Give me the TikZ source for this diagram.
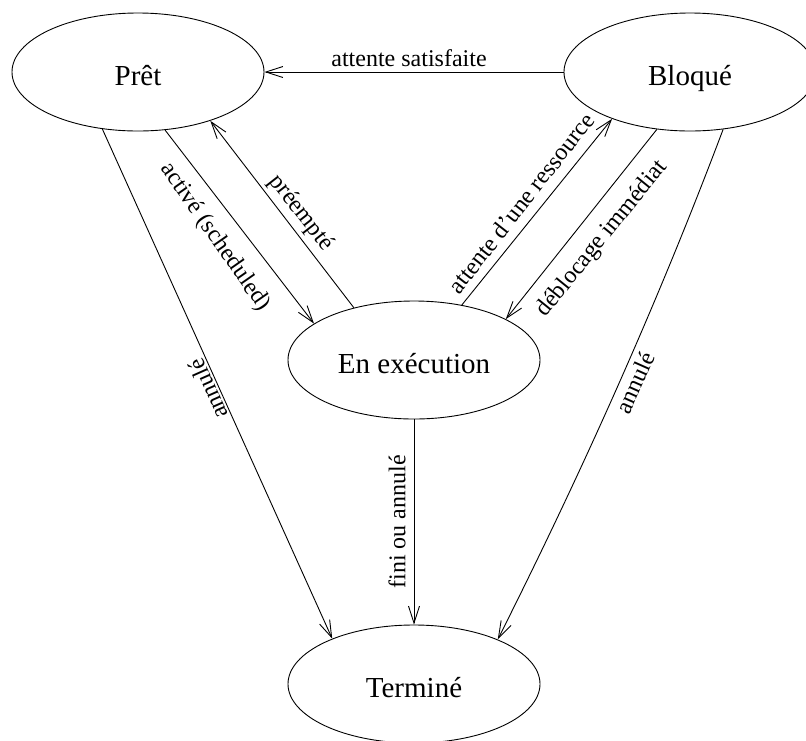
\documentclass[tikz,border=0pt]{standalone}
\usepackage{fontspec}
\setmainfont{Liberation Serif}
\usetikzlibrary{shapes.geometric,arrows.meta}
\begin{document}
\begin{tikzpicture}[x=1pt,y=-1pt,
  state/.style={draw, ellipse, line width=0.9pt, minimum width=252pt, minimum height=118pt,
    inner sep=0pt, font=\fontsize{29}{31}\selectfont, text height=26pt, text depth=0pt},
  elabel/.style={font=\fontsize{24}{26}\selectfont, inner sep=0pt},
  conn/.style={line width=0.9pt, -{Straight Barb[length=17pt,width=11pt,line width=0.9pt]}}]
\useasboundingbox (0,0) rectangle (806,740);
\clip (0,0) rectangle (806,740);

\node[state] (pret) at (138,72) {Prêt};
\node[state] (bloque) at (690,72) {Bloqué};
\node[state] (exec) at (414,360) {En exécution};
\node[state] (term) at (414,684) {Terminé};

\draw[conn] (bloque.180) -- (pret.0);
\draw[conn] (pret.-65.7) -- (exec.160.6);
\draw[conn] (exec.139.8) -- (pret.-34.3);
\draw[conn] (exec.49) -- (bloque.-149.9);
\draw[conn] (bloque.-120.4) -- (exec.24.4);
\draw[conn] (exec.-90) -- (term.90);
\draw[conn] (pret.-122) -- (term.151.9);
\draw[conn] (bloque.-60.9) .. controls (663,289) and (589,458) .. (term.28.8);

\node[elabel, anchor=base] (l1) at (409,66) {attente satisfaite};
\node[elabel, rotate=-55] (l2) at (215,237) {activé (scheduled)};
\node[elabel, rotate=-52] (l3) at (301,213) {préempté};
\node[elabel, rotate=52] (l4) at (521,203) {attente d’une ressource};
\node[elabel, rotate=51] (l5) at (602,239) {déblocage immédiat};
\node[elabel, rotate=90] (l6) at (397,522) {fini ou annulé};
\node[elabel, rotate=66] (l7) at (635,383) {annulé};
\node[elabel, rotate=114] (l8) at (208,389) {annulé};
\end{tikzpicture}
\end{document}
